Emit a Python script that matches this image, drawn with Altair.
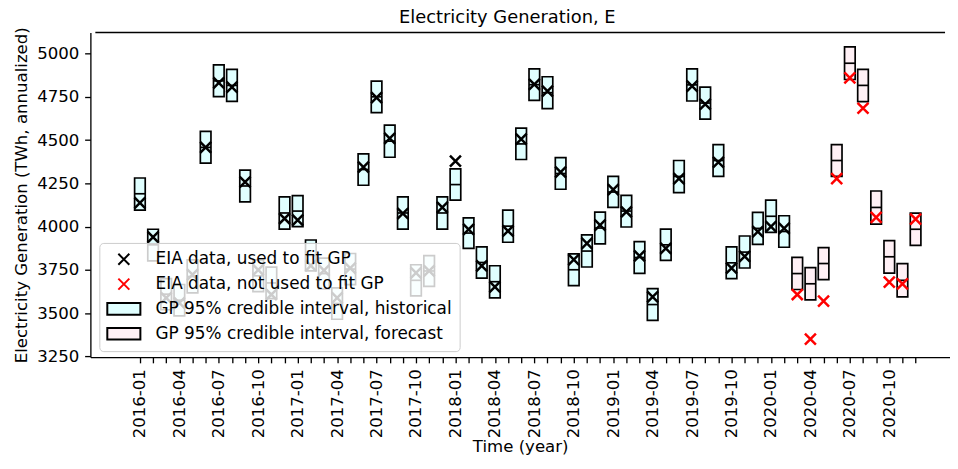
import json
import altair as alt
import pandas as pd

# ---- data (TWh, annualized) ----
months = [f"{y}-{m:02d}" for y in range(2016, 2021) for m in range(1, 13)]

gp_upper = [4281, 3985, 3700, 3666, 3808, 4550, 4934, 4909, 4327, 3808,
            3766, 4172, 4179, 3923, 3818, 3646, 3845, 4420, 4841, 4586,
            4172, 3780, 3833, 4172, 4334, 4051, 3883, 3774, 4095, 4569,
            4911, 4866, 4399, 3843, 3952, 4084, 4290, 4181, 3914, 3642,
            3986, 4382, 4911, 4806, 4474, 3883, 3946, 4082, 4153, 4063,
            3822, 3763, 3879, 4474, 5038, 4909, 4206, 3919, 3786, 4078]
gp_lower = [4095, 3802, 3520, 3485, 3617, 4367, 4751, 4724, 4143, 3625,
            3584, 3986, 4000, 3745, 3640, 3465, 3665, 4239, 4659, 4401,
            3986, 3600, 3655, 3986, 4153, 3875, 3703, 3589, 3910, 4388,
            4730, 4682, 4216, 3659, 3767, 3900, 4111, 3998, 3730, 3459,
            3805, 4197, 4726, 4621, 4290, 3700, 3761, 3898, 3967, 3881,
            3637, 3577, 3694, 4290, 4850, 4722, 4015, 3732, 3594, 3892]
gp_median = [4190, 3895, 3610, 3575, 3712, 4458, 4842, 4816, 4235, 3716,
             3675, 4079, 4090, 3834, 3729, 3556, 3755, 4330, 4750, 4494,
             4079, 3690, 3744, 4079, 4243, 3963, 3793, 3682, 4003, 4478,
             4820, 4774, 4307, 3751, 3859, 3992, 4200, 4090, 3822, 3550,
             3895, 4290, 4819, 4714, 4382, 3791, 3853, 3990, 4060, 3972,
             3729, 3670, 3787, 4382, 4944, 4816, 4111, 3826, 3690, 3985]
eia_actual = [4137, 3939, 3589, 3560, 3723, 4458, 4831, 4806, 4258, 3750,
              3608, 4047, 4038, 3775, 3748, 3589, 3760, 4344, 4745, 4510,
              4076, 3733, 3745, 4111, 4378, 3984, 3774, 3652, 3975, 4506,
              4822, 4783, 4315, 3809, 3904, 4009, 4214, 4086, 3831, 3594,
              3875, 4277, 4812, 4707, 4372, 3761, 3828, 3971, 4000, 3990,
              3608, 3350, 3570, 4277, 4860, 4684, 4053, 3680, 3669, 4044]
n_fit = 50  # first 50 months used to fit the GP

series_labels = ["EIA data, used to fit GP",
                 "EIA data, not used to fit GP",
                 "GP 95% credible interval, historical",
                 "GP 95% credible interval, forecast"]
y_ticks = [3250, 3500, 3750, 4000, 4250, 4500, 4750, 5000]

# ---- tables ----
idx = list(range(len(months)))
box_df = pd.DataFrame({
    "idx": idx, "lower": gp_lower, "upper": gp_upper, "median": gp_median,
    "series": [series_labels[2] if i < n_fit else series_labels[3] for i in idx],
})
pt_df = pd.DataFrame({
    "idx": idx, "actual": eia_actual,
    "series": [series_labels[0] if i < n_fit else series_labels[1] for i in idx],
})

# symbol paths (legend symbolSize 289 -> unit = 8.5 px)
X_PATH = "M-0.65,-0.65L0.65,0.65M0.65,-0.65L-0.65,0.65"
R_PATH = "M-1.96,-0.69L1.96,-0.69L1.96,0.69L-1.96,0.69Z"
SYM = 289

FONT = "DejaVu Sans"
FS = 16.7

label_arr = json.dumps([m if i % 3 == 0 else "" for i, m in enumerate(months)])
x_domain = [-3.39, 61.24]
y_domain = [3246.6, 5121.6]

legend_common = dict(orient="none", legendX=9, legendY=212, title=None)

x_scale = alt.Scale(domain=x_domain, nice=False, zero=False)
y_scale = alt.Scale(domain=y_domain, nice=False, zero=False)

x_axis = alt.Axis(values=idx, tickCount=len(idx) + 1,
                  labelExpr=f"{label_arr}[datum.value]",
                  labelAngle=-90, labelAlign="right", labelBaseline="middle",
                  labelOverlap=False, labelFlush=False, labelSeparation=0,
                  labelBound=False, title="Time (year)", titlePadding=1)
y_axis = alt.Axis(values=y_ticks, tickCount=len(y_ticks) + 1, labelFlush=False,
                  format="d", title="Electricity Generation (TWh, annualized)")

fill_scale = alt.Scale(domain=series_labels,
                       range=["transparent", "transparent", "#e0ffff", "#fff0f5"])
stroke_scale = alt.Scale(domain=series_labels, range=["black", "red", "black", "black"])
shape_scale = alt.Scale(domain=series_labels, range=[X_PATH, X_PATH, R_PATH, R_PATH])

boxes = alt.Chart(box_df).mark_bar(size=10.7, stroke="black", strokeWidth=1.7).encode(
    x=alt.X("idx:Q", scale=x_scale, axis=x_axis),
    y=alt.Y("lower:Q", scale=y_scale, axis=y_axis),
    y2="upper:Q",
    fill=alt.Fill("series:N", scale=fill_scale, legend=alt.Legend(**legend_common)),
)

medians = alt.Chart(box_df).mark_tick(color="black", thickness=1.7, size=10.7,
                                      orient="horizontal", opacity=1).encode(
    x=alt.X("idx:Q"),
    y=alt.Y("median:Q"),
)

points = alt.Chart(pt_df).mark_point(filled=False, size=SYM, strokeWidth=2.5,
                                     opacity=1).encode(
    x=alt.X("idx:Q"),
    y=alt.Y("actual:Q"),
    stroke=alt.Stroke("series:N", scale=stroke_scale, legend=alt.Legend(**legend_common)),
    shape=alt.Shape("series:N", scale=shape_scale, legend=alt.Legend(**legend_common)),
)

# top frame line at the upper end of the y domain
top_spine = alt.Chart(pd.DataFrame({"a": [0]})).mark_rule(
    color="black", strokeWidth=1.33).encode(
    x=alt.datum(x_domain[0]), x2=alt.datum(x_domain[1]), y=alt.datum(y_domain[1]),
)

chart = alt.layer(boxes, medians, points, top_spine).properties(
    width=866, height=327,
    autosize=alt.AutoSizeParams(type="none"),
    padding={"left": 83, "top": 23, "right": 0, "bottom": 100},
    title=alt.TitleParams("Electricity Generation, E", fontSize=18, fontWeight="normal",
                          font=FONT, color="black", anchor="middle", offset=0, dx=-13),
).configure(font=FONT).configure_view(stroke=None).configure_axis(
    domainColor="black", domainWidth=1.33, tickColor="black", tickWidth=1.33,
    tickSize=5.8, labelFont=FONT, labelFontSize=FS, labelColor="black", labelPadding=5.8,
    titleFont=FONT, titleFontSize=FS, titleColor="black", titleFontWeight="normal",
    titlePadding=6.7, grid=False,
).configure_legend(
    fillColor="rgba(255,255,255,0.8)", strokeColor="#cccccc", cornerRadius=4,
    padding=7, labelFont=FONT, labelFontSize=17, labelColor="black", labelLimit=0,
    symbolSize=SYM, symbolStrokeWidth=2, rowPadding=4, labelOffset=22.4,
    symbolOffset=8.2,
)

chart.save("out.html", embed_options={"renderer": "svg", "actions": False})
